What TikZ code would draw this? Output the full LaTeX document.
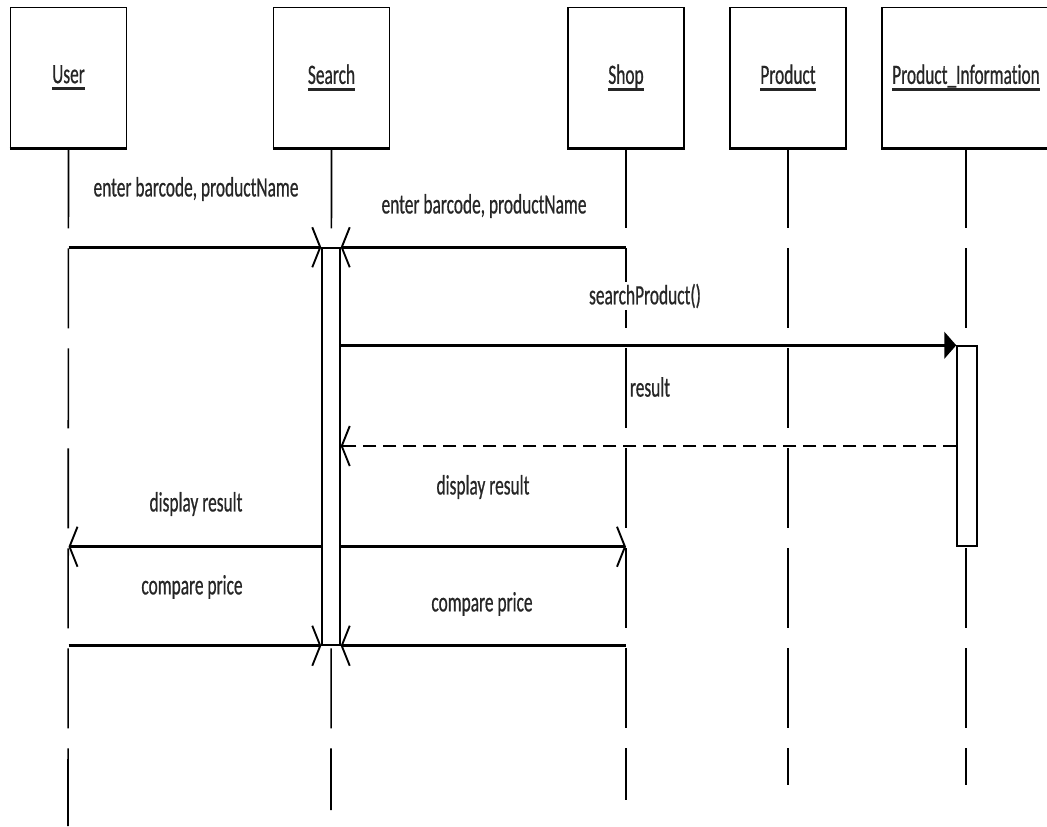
\documentclass[tikz,border=0pt]{standalone}
\usepackage{fontspec}
\newfontfamily\umlfont[FakeStretch=0.62, FakeBold=0.6, Ligatures=NoCommon]{Carlito}
\usetikzlibrary{arrows.meta}
\newcommand{\objname}[1]{\setbox0=\hbox{#1}\rlap{\rule[-5pt]{\wd0}{1.8pt}}\box0}

\begin{document}
\begin{tikzpicture}[x=0.75pt,y=-0.75pt,
  every node/.style={font=\umlfont\fontsize{21}{24}\selectfont, text=black!85},
  obj/.style={draw, line width=1.4pt, minimum width=87pt, minimum height=105pt, inner sep=0pt},
  bar/.style={draw, fill=white, line width=1.1pt, minimum width=13.5pt, inner sep=0pt},
  life/.style={line width=1.2pt, dash pattern=on 60pt off 15pt},
  msg/.style={line width=2pt, -{Straight Barb[length=6pt,width=30pt,line width=1.4pt]}},
  call/.style={line width=2pt, -{Triangle[length=9pt,width=20pt]}}]
  \clip (0,0) rectangle (1047,826);

  \node[obj] (user) at (68.5,77.5) {\objname{User}};
  \node[obj] (search) at (331.5,77.5) {\objname{Search}};
  \node[obj] (shop) at (626,77.5) {\objname{Shop}};
  \node[obj] (product) at (788,77.5) {\objname{Product}};
  \node[obj, minimum width=126pt] (info) at (966,77.5) {\objname{Product\_Information}};
  \foreach \n in {user,search,shop,product,info}
    \draw[line width=2.6pt] (\n.south west) -- (\n.south east);

  \coordinate (userend) at (68,826);
  \coordinate (searchend) at (331,810);
  \coordinate (shopend) at (626,800);
  \coordinate (productend) at (788,785);
  \coordinate (infoend) at (966,785);
  \foreach \n in {user,search,shop,product,info}
    \draw[life] (\n.south) -- (\n end);

  \node[bar, minimum height=297.75pt] (sbar) at (331,446.5) {};
  \node[bar, minimum height=150pt, minimum width=15pt] (ibar) at (967,446) {};

  \draw[msg] (user |- sbar.north) -- (sbar.north west);
  \draw[msg] (shop |- sbar.north) -- (sbar.north east);
  \draw[call] (sbar.east |- ibar.north) -- (ibar.north west);
  \draw[msg, dash pattern=on 10pt off 5pt] (ibar.west) -- (sbar.east |- ibar.west);
  \draw[msg] (sbar.west |- ibar.south) -- (user |- ibar.south);
  \draw[msg] (sbar.east |- ibar.south) -- (shop |- ibar.south);
  \draw[msg] (user |- sbar.south) -- (sbar.south west);
  \draw[msg] (shop |- sbar.south) -- (sbar.south east);

  \node (enter1) at (196,189) {enter barcode, productName};
  \node (enter2) at (484,206) {enter barcode, productName};
  \node[fill=white, inner sep=1pt] (searchcall) at (645,296) {searchProduct()};
  \node (result) at (650,387) {result};
  \node (display1) at (196,504) {display result};
  \node (display2) at (483,487) {display result};
  \node (compare1) at (192,587) {compare price};
  \node (compare2) at (482,604) {compare price};
\end{tikzpicture}
\end{document}
